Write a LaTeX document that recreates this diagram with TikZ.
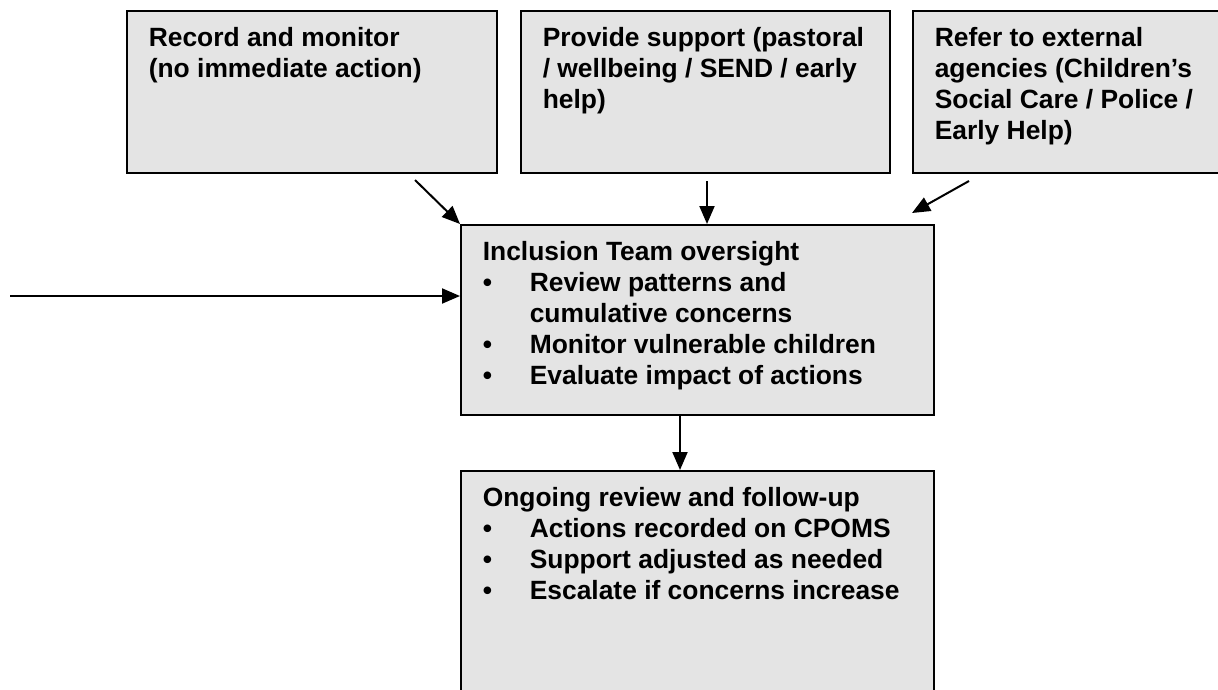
\documentclass[tikz,border=0pt]{standalone}
\usepackage{fontspec}
\setmainfont{Liberation Sans}
\usetikzlibrary{arrows.meta}

\definecolor{boxgray}{RGB}{228,228,228}
\newcommand{\boxtext}[3]{\parbox[t][#2][t]{#1}{\raggedright\vspace*{17pt}#3}}
\newcommand{\bulletitem}[1]{\par\noindent\hangindent=47pt\hangafter=1\makebox[47pt][l]{\textbullet}#1}

\tikzset{
    stage/.style={draw=black, line width=1.6pt, fill=boxgray, anchor=north west,
        inner xsep=22pt, inner ysep=0pt, font=\fontsize{26.4}{31}\selectfont\bfseries},
    flow/.style={-{Triangle[length=18pt,width=15pt]}, line width=2pt}
}

\begin{document}
\begin{tikzpicture}[x=1pt,y=-1pt]
                \useasboundingbox (0,0) rectangle (1218,689);
                \clip (0,0) rectangle (1218,689);

                \node[stage] (rec) at (126,10) {\boxtext{326pt}{162pt}{Record and monitor\\(no immediate action)}};
                \node[stage] (sup) at (520,10) {\boxtext{325pt}{162pt}{Provide support (pastoral\\/ wellbeing / SEND / early\\help)}};
                \node[stage] (ext) at (912,10) {\boxtext{326pt}{162pt}{Refer to external\\agencies (Children’s\\Social Care / Police /\\Early Help)}};

                \node[stage] (incl) at (460,224) {\boxtext{429pt}{190pt}{Inclusion Team oversight
                    \bulletitem{Review patterns and\newline cumulative concerns}
                    \bulletitem{Monitor vulnerable children}
                    \bulletitem{Evaluate impact of actions}}};
                \node[stage] (review) at (460,470) {\boxtext{429pt}{240pt}{Ongoing review and follow-up
                    \bulletitem{Actions recorded on CPOMS}
                    \bulletitem{Support adjusted as needed}
                    \bulletitem{Escalate if concerns increase}}};

                \coordinate (recout) at (415,180);
                \coordinate (supout) at (707,181);
                \coordinate (extout) at (969,181);
                \coordinate (extin) at (912,213);
                \coordinate (feed) at (10,296);
                \coordinate (drop) at (680,0);

                \draw[flow] (recout) -- (incl.north west);
                \draw[flow] (supout) -- (supout |- incl.north);
                \draw[flow] (extout) -- (extin);
                \draw[flow] (feed) -- (feed -| incl.west);
                \draw[flow] (drop |- incl.south) -- (drop |- review.north);

            \end{tikzpicture}
\end{document}
